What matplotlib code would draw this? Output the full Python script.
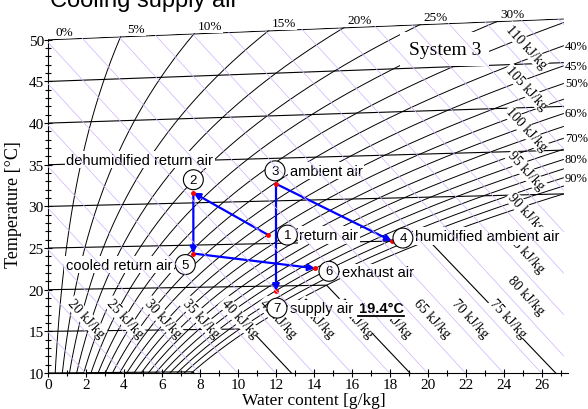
import numpy as np
import matplotlib.pyplot as plt
from matplotlib.patches import Polygon
from matplotlib.lines import Line2D

plt.rcParams['font.family'] = 'Liberation Serif'
SANS = 'Liberation Sans'

# chart grid (h-x diagram)
temps = np.arange(10, 55, 5)                 # isotherms [°C]
rh_levels = np.arange(0, 105, 5)             # relative humidity curves [%]
rh_top_labels = [0, 5, 10, 15, 20, 25, 30]
rh_side_labels = [40, 45, 50, 60, 70, 80, 90]
h_levels = np.arange(10, 125, 5)             # enthalpy lines [kJ/kg]
h_row_labels = np.arange(20, 80, 5)
h_col_labels = np.arange(80, 115, 5)
x_ticks = np.arange(0, 27, 2)
t_ticks = np.arange(10, 55, 5)

# state points
pt_id = ['1', '2', '3', '4', '5', '6', '7']
pt_x = np.array([11.6, 7.65, 12.0, 18.1, 7.65, 14.05, 12.0])    # g/kg
pt_T = np.array([26.0, 31.2, 32.0, 25.0, 24.0, 22.0, 19.4])     # °C
pt_name = ['return air', 'dehumidified return air', 'ambient air',
           'humidified ambient air', 'cooled return air', 'exhaust air', 'supply air']
processes = [(0, 1), (1, 4), (4, 5), (2, 6), (2, 3)]

P = 101.325
X_MAX = 27.15


def psat(T):
    return 0.61094 * np.exp(17.625 * T / (T + 243.04))


def x_of(T, phi):
    pv = phi * psat(T)
    return 622 * pv / (P - pv)


def yc(T, x):
    return T * (1 + 0.001849 * x)


def y_h(h, x):
    return (h - 2.501 * x) / 1.006


fig = plt.figure(figsize=(5.88, 4.10), dpi=100)
ax = fig.add_axes([48 / 588, 36 / 410, 540 / 588, 374 / 410])
ax.set_xlim(0, 540 / 19.0)
ax.set_ylim(10, 10 + 374 / 8.33)

xs = np.linspace(0, X_MAX, 100)
verts = [(0, 10)] + list(zip(xs, yc(50, xs) + 0.06)) + [(X_MAX, 10)]
clip = Polygon(verts, closed=True, transform=ax.transData, fc='none', ec='none')
ax.add_patch(clip)

Ts = np.linspace(5, 56, 500)
for phi in rh_levels:
    x = x_of(Ts, phi / 100)
    ln, = ax.plot(x, yc(Ts, x), color='k', lw=0.7, zorder=2)
    ln.set_clip_path(clip)

for T in temps:
    xs_ = x_of(T, 1.0)
    x1 = np.linspace(0, xs_, 50)
    x2 = np.linspace(xs_, 40, 50)
    h_s = 1.006 * T + xs_ / 1000 * (2501 + 1.86 * T)
    h2 = h_s + 4.19 * T * (x2 - xs_) / 1000
    ln, = ax.plot(np.r_[x1, x2], np.r_[yc(T, x1), y_h(h2, x2)], color='k', lw=0.8, zorder=2)
    ln.set_clip_path(clip)

for h in h_levels:
    x = np.array([0, 40])
    ln, = ax.plot(x, y_h(h, x), color='#d4b8ff', lw=0.55, zorder=6)
    ln.set_clip_path(clip)

# enthalpy label angle on screen
p0 = ax.transData.transform((0, y_h(60, 0)))
p1 = ax.transData.transform((10, y_h(60, 10)))
ang = np.degrees(np.arctan2(p1[1] - p0[1], p1[0] - p0[0]))
wbox = dict(fc='white', ec='none', pad=0.5)
for h in h_row_labels:
    ax.text(2.0 + (h - 20) * 0.404, 16.6, f'{h} kJ/kg', rotation=ang, rotation_mode='anchor',
            ha='center', va='center', fontsize=10, bbox=wbox, zorder=3)
for h in h_col_labels:
    ax.text(25.15, y_h(h, 25.15) + 2.4, f'{h} kJ/kg', rotation=ang, rotation_mode='anchor',
            ha='center', va='center', fontsize=10, bbox=wbox, zorder=3)

for phi in rh_top_labels:
    xc = x_of(50, phi / 100)
    ax.annotate(f'{phi}%', xy=(xc, yc(50, xc)), xytext=(16, 8), textcoords='offset pixels',
                ha='center', va='center', fontsize=9.5, bbox=wbox, zorder=3)
for phi in rh_side_labels:
    x = x_of(Ts, phi / 100)
    Te = np.interp(X_MAX, x, Ts)
    ax.text(X_MAX + 0.05, yc(Te, X_MAX), f'{phi}%', ha='left', va='center', fontsize=9,
            bbox=dict(fc='white', ec='none', pad=0.2), zorder=3, clip_on=False)

# axes
for s in ['top', 'right']:
    ax.spines[s].set_visible(False)
ax.spines['left'].set_bounds(10, 50)
ax.spines['bottom'].set_bounds(0, 27.35)
ax.set_xticks(x_ticks)
ax.set_xticks(np.arange(0, 28, 1), minor=True)
ax.set_yticks(t_ticks)
ax.set_yticks(np.arange(10, 51, 1), minor=True)
ax.tick_params(which='both', direction='inout', width=0.8, labelsize=11)
ax.tick_params(which='major', length=6)
ax.tick_params(which='minor', length=5)
ax.tick_params(axis='y', pad=0)
ax.tick_params(axis='x', pad=0.5)
fig.text(314 / 588, 1 / 410, 'Water content [g/kg]', ha='center', va='bottom', fontsize=12.5)
fig.text(14 / 588, 1 - 205 / 410, 'Temperature [°C]', ha='center', va='center',
         rotation=90, fontsize=13)
ax.text(0.735, 0.866, 'System 3', transform=ax.transAxes, ha='center', va='center',
        fontsize=14, bbox=dict(fc='white', ec='none', pad=6), zorder=3)
fig.text(50 / 588, 1 - 7 / 410, 'Cooling supply air', ha='left', va='baseline',
         fontsize=17, family=SANS)

# processes
py = yc(pt_T, pt_x)
for a, b in processes:
    ax.annotate('', xy=(pt_x[b], py[b]), xytext=(pt_x[a], py[a]),
                arrowprops=dict(arrowstyle='-|>', color='blue', lw=1.6, mutation_scale=10,
                                shrinkA=0, shrinkB=0), zorder=4)
ax.plot(pt_x, py, 'o', color='red', ms=2.5, zorder=4.5)

circ_off = [(19, 0), (0, 13), (-1, 13), (11, 3), (-8, -11), (14, -3), (1, -17)]
name_off = [(31, 0, 'left'), (20, 33, 'right'), (14, 13, 'left'), (23, 5, 'left'),
            (-21, -11, 'right'), (27, -4, 'left'), (14, -17, 'left')]
tbox = dict(fc='white', ec='none', pad=1.2)
for i in range(len(pt_id)):
    dx, dy, ha = name_off[i]
    t = ax.annotate(pt_name[i], xy=(pt_x[i], py[i]), xytext=(dx, dy), textcoords='offset pixels',
                    ha=ha, va='center', fontsize=10.5, family=SANS, bbox=tbox, zorder=5)
    if i == 6:
        supply = t
for i in range(len(pt_id)):
    ax.annotate(pt_id[i], xy=(pt_x[i], py[i]), xytext=circ_off[i], textcoords='offset pixels',
                ha='center', va='center', fontsize=9.5, family=SANS, zorder=5.5,
                bbox=dict(boxstyle='circle,pad=0.3', fc='white', ec='black', lw=0.8))

fig.canvas.draw()
bb = supply.get_window_extent()
t2 = ax.annotate(' 19.4°C', xy=(bb.x1 + 2, (bb.y0 + bb.y1) / 2), xycoords='figure pixels',
                 ha='left', va='center', fontsize=10.5, family=SANS, fontweight='bold',
                 bbox=dict(fc='white', ec='none', pad=2.5), zorder=4.8)
fig.canvas.draw()
b2 = t2.get_window_extent()
sp = b2.width * 0.06
fig.add_artist(Line2D([(b2.x0 + sp) / 588, b2.x1 / 588], [(b2.y0 - 1) / 410] * 2,
                      color='black', lw=1.3, transform=fig.transFigure))

fig.savefig('out.png', dpi=100)
